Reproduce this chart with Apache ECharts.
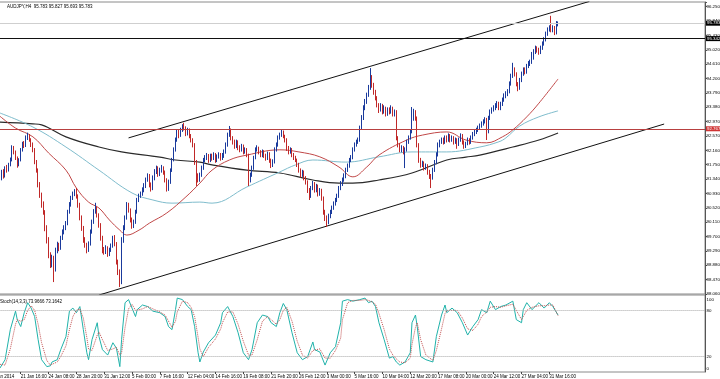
<!DOCTYPE html>
<html><head><meta charset="utf-8">
<script src="https://cdn.jsdelivr.net/npm/echarts@6/dist/echarts.min.js"></script>
<style>html,body{margin:0;padding:0;background:#fff}#c{width:720px;height:379px}</style>
</head><body><div id="c"></div>
<script>
// ---- data (AUDJPY H4) ----
const firstOpen = 91.60;
const closes = [
91.37,91.54,91.42,91.65,91.59,91.74,91.88,92.22,92.11,91.94,
91.74,91.88,92.17,92.34,92.28,92.51,92.56,92.45,92.31,92.17,
91.82,91.59,91.17,90.88,90.60,90.40,89.94,89.60,89.17,88.89,
89.09,88.74,89.31,89.46,89.37,89.66,89.83,89.94,90.06,90.40,
90.60,90.80,90.91,90.97,90.85,90.60,90.23,89.94,89.60,89.46,
89.31,89.49,89.83,90.11,90.40,90.51,90.31,90.03,89.66,89.31,
89.26,89.37,89.20,89.31,89.43,89.66,89.49,88.97,88.69,88.40,
89.60,89.94,90.23,90.60,90.45,90.17,90.00,90.11,90.40,90.74,
90.85,90.91,91.02,91.14,91.31,91.42,91.17,91.08,91.37,91.54,
91.65,91.48,91.59,91.65,91.54,91.31,91.08,91.25,91.59,91.88,
92.17,92.45,92.68,92.59,92.74,92.85,92.79,92.62,92.74,92.56,
92.45,92.31,91.82,91.37,91.31,91.45,91.65,91.88,91.94,92.00,
91.88,92.00,91.94,92.02,91.88,91.97,92.02,91.94,92.00,92.11,
92.31,92.59,92.74,92.51,92.39,92.28,92.39,92.22,92.17,92.28,
92.11,92.17,92.02,91.31,91.45,91.65,91.94,92.17,92.22,92.11,
92.02,92.11,92.00,91.94,92.05,91.88,91.74,91.82,92.17,92.31,
92.51,92.59,92.68,92.56,92.45,92.22,92.11,92.17,92.02,91.94,
91.88,91.74,91.59,91.45,91.54,91.37,91.25,91.02,90.85,91.08,
91.20,91.02,91.14,90.91,91.02,90.80,90.40,90.23,90.11,90.28,
90.40,90.51,90.63,90.74,90.85,91.08,91.20,91.31,91.42,91.59,
91.71,91.88,91.94,92.17,92.31,92.39,92.45,92.79,93.08,93.36,
93.53,93.73,93.93,94.16,94.02,93.82,93.65,93.45,93.31,93.42,
93.25,93.36,93.19,93.31,93.25,93.36,93.19,93.25,92.51,92.31,
92.17,92.22,92.11,92.17,92.39,92.51,92.68,93.08,93.25,93.08,
92.31,91.88,91.74,91.79,91.65,91.71,91.54,91.42,91.37,91.59,
91.82,92.02,92.31,92.39,92.45,92.39,92.51,92.45,92.56,92.45,
92.51,92.39,92.45,92.34,92.45,92.56,92.39,92.28,92.34,92.45,
92.39,92.51,92.62,92.68,92.74,92.79,92.85,92.91,92.97,93.02,
92.68,93.08,93.25,93.31,93.36,93.42,93.48,93.36,93.48,93.59,
93.70,93.76,93.82,94.05,94.27,94.45,94.33,94.05,93.93,94.16,
94.33,94.45,94.39,94.56,94.62,94.67,94.79,94.96,95.07,95.02,
94.96,95.07,95.19,95.30,95.47,95.59,95.64,95.59,95.64,95.50,
95.78,95.78];
const highs = [
91.68,91.60,91.62,91.70,91.74,91.80,91.95,92.30,92.28,92.15,
91.98,91.93,92.22,92.40,92.42,92.58,92.66,92.62,92.50,92.38,
92.22,91.88,91.64,91.25,90.95,90.70,90.45,90.02,89.68,89.25,
89.18,89.15,89.38,89.55,89.52,89.72,89.90,90.02,90.14,90.46,
90.68,90.86,90.98,91.05,91.08,90.90,90.66,90.30,90.00,89.68,
89.52,89.56,89.90,90.18,90.48,90.66,90.56,90.36,90.08,89.72,
89.40,89.45,89.42,89.38,89.50,89.72,89.74,89.54,89.04,88.76,
89.68,90.02,90.30,90.68,90.66,90.50,90.24,90.18,90.46,90.80,
90.92,90.98,91.10,91.22,91.38,91.50,91.48,91.24,91.44,91.62,
91.72,91.70,91.66,91.74,91.70,91.58,91.36,91.32,91.64,91.94,
92.24,92.52,92.76,92.74,92.80,92.90,92.94,92.84,92.80,92.78,
92.62,92.50,92.36,91.88,91.50,91.52,91.72,91.94,92.02,92.08,
92.05,92.06,92.06,92.10,92.08,92.04,92.10,92.08,92.08,92.18,
92.38,92.66,92.85,92.78,92.56,92.46,92.46,92.44,92.30,92.34,
92.32,92.24,92.22,92.06,91.52,91.72,92.00,92.24,92.30,92.26,
92.16,92.18,92.16,92.06,92.12,92.10,91.92,91.90,92.24,92.38,
92.58,92.66,92.74,92.72,92.60,92.50,92.28,92.24,92.22,92.08,
92.00,91.92,91.80,91.64,91.60,91.58,91.42,91.30,91.08,91.14,
91.28,91.25,91.20,91.18,91.08,91.06,90.84,90.46,90.30,90.35,
90.46,90.58,90.70,90.80,90.92,91.14,91.28,91.38,91.50,91.66,
91.78,91.94,92.02,92.24,92.38,92.46,92.52,92.86,93.16,93.44,
93.62,93.80,94.02,94.50,94.30,94.08,93.88,93.70,93.50,93.50,
93.48,93.44,93.40,93.38,93.38,93.44,93.40,93.32,93.30,92.56,
92.36,92.30,92.28,92.24,92.46,92.58,92.76,93.39,93.34,93.30,
93.12,92.36,91.94,91.86,91.84,91.78,91.76,91.60,91.48,91.66,
91.88,92.10,92.38,92.46,92.52,92.52,92.58,92.58,92.64,92.62,
92.58,92.56,92.52,92.50,92.52,92.64,92.62,92.44,92.40,92.52,
92.50,92.58,92.68,92.76,92.80,92.86,92.92,92.98,93.04,93.10,
93.08,93.14,93.32,93.38,93.44,93.50,93.56,93.54,93.54,93.66,
93.78,93.84,93.90,94.12,94.34,94.65,94.52,94.38,94.10,94.22,
94.40,94.52,94.52,94.62,94.70,94.74,94.96,95.04,95.14,95.12,
95.08,95.14,95.26,95.38,95.54,95.66,95.72,95.99,95.72,95.70,
95.84,95.83];
const lows = [
91.25,91.30,91.35,91.38,91.52,91.55,91.70,91.84,92.04,91.88,
91.66,91.70,91.84,92.12,92.22,92.25,92.45,92.40,92.25,92.10,
91.76,91.52,91.10,90.80,90.52,90.32,89.85,89.50,89.08,88.80,
88.82,88.40,88.70,89.22,89.28,89.32,89.60,89.76,89.88,90.02,
90.35,90.55,90.74,90.85,90.78,90.52,90.16,89.86,89.52,89.38,
89.22,89.26,89.44,89.78,90.06,90.35,90.24,89.95,89.58,89.22,
89.18,89.20,89.12,89.14,89.26,89.38,89.42,88.90,88.60,88.26,
88.34,89.52,89.88,90.18,90.38,90.10,89.92,89.94,90.06,90.35,
90.68,90.80,90.86,90.96,91.08,91.26,91.10,90.98,91.02,91.30,
91.48,91.40,91.42,91.52,91.46,91.24,90.98,91.00,91.20,91.54,
91.84,92.12,92.40,92.50,92.54,92.68,92.72,92.56,92.58,92.50,
92.38,92.24,91.74,91.14,91.24,91.26,91.40,91.60,91.82,91.88,
91.80,91.82,91.86,91.88,91.80,91.82,91.92,91.86,91.88,91.94,
92.06,92.26,92.54,92.44,92.32,92.20,92.22,92.16,92.10,92.12,
92.04,92.06,91.96,91.14,91.24,91.40,91.60,91.90,92.12,92.04,
91.96,91.96,91.94,91.86,91.88,91.80,91.65,91.68,91.78,92.12,
92.26,92.46,92.54,92.50,92.38,92.14,92.04,92.06,91.96,91.88,
91.82,91.68,91.52,91.38,91.40,91.30,91.18,90.94,90.74,90.80,
91.02,90.95,90.96,90.84,90.86,90.72,90.32,90.14,89.97,90.05,
90.22,90.34,90.46,90.58,90.68,90.80,91.02,91.14,91.26,91.36,
91.54,91.66,91.82,91.90,92.12,92.26,92.34,92.40,92.74,93.02,
93.30,93.48,93.68,93.88,93.94,93.74,93.58,93.38,93.22,93.26,
93.18,93.20,93.12,93.14,93.18,93.20,93.12,93.12,92.44,92.24,
92.10,92.10,92.04,91.65,92.12,92.34,92.46,92.64,93.00,93.00,
92.24,91.80,91.66,91.68,91.58,91.60,91.46,91.34,91.08,91.32,
91.54,91.76,91.98,92.24,92.34,92.32,92.34,92.38,92.40,92.38,
92.40,92.32,92.34,92.20,92.28,92.40,92.32,92.20,92.22,92.30,
92.32,92.34,92.46,92.56,92.62,92.68,92.74,92.80,92.86,92.92,
92.45,92.64,93.02,93.20,93.26,93.30,93.36,93.30,93.30,93.42,
93.54,93.64,93.70,93.78,94.00,94.22,94.26,93.98,93.84,93.88,
94.10,94.28,94.32,94.34,94.50,94.56,94.62,94.74,94.90,94.94,
94.88,94.90,95.02,95.14,95.26,95.42,95.54,95.52,95.52,95.44,
95.46,95.69];

// moving averages: [bar index, price]
const maBlack = [[0,92.96],[19,92.91],[24,92.88],[38,92.54],[57,92.25],[70,92.11],[92,91.96],[101,91.88],[115,91.82],[122,91.74],[142,91.59],[161,91.51],[180,91.31],[195,91.22],[203,91.22],[218,91.31],[237,91.51],[257,91.88],[268,91.96],[276,92.02],[295,92.25],[310,92.45],[321,92.65]];
const maRed = [[0,93.13],[9,92.79],[19,92.54],[28,92.08],[38,91.59],[44,91.08],[51,90.68],[57,90.51],[63,90.17],[69,89.88],[73,89.74],[80,89.88],[86,90.08],[96,90.37],[107,90.83],[115,91.22],[122,91.59],[132,91.88],[142,92.02],[161,92.17],[172,92.11],[184,91.97],[195,91.68],[203,91.40],[211,91.68],[218,92.02],[234,92.45],[243,92.59],[257,92.68],[268,92.45],[280,92.37],[289,92.54],[295,92.74],[303,93.11],[310,93.50],[321,94.19]];
const maBlue = [[0,93.22],[19,92.82],[38,92.25],[57,91.59],[76,90.94],[88,90.74],[99,90.65],[115,90.68],[122,90.65],[142,91.11],[161,91.54],[170,91.74],[180,91.88],[199,91.82],[218,91.97],[237,92.11],[257,92.11],[276,92.25],[287,92.40],[291,92.51],[299,92.85],[310,93.11],[321,93.28]];

// trend lines: [bar index, price]
const upperChannel = [[74,92.51],[339,96.40]];
const lowerChannel = [[57,88.03],[382,92.905]];

// horizontal levels
const bidPrice = 95.783, resistLevel = 95.342, supportLevel = 92.767;

// stochastic (14,3,3): [bar index, value]
const stochMain = [[0,5],[3,16],[6,55],[9,79],[10,68],[12,59],[14,77],[16,90],[18,83],[20,72],[22,42],[24,16],[27,7],[29,8],[30,13],[33,16],[35,29],[38,46],[40,79],[42,83],[44,77],[46,85],[48,55],[50,25],[51,16],[53,42],[56,64],[57,46],[59,29],[62,22],[65,38],[67,31],[69,7],[70,42],[72,90],[74,94],[76,83],[78,72],[79,81],[82,87],[85,85],[88,79],[92,77],[95,72],[97,59],[99,55],[101,81],[102,96],[105,94],[108,85],[110,81],[112,59],[114,25],[115,13],[117,26],[120,38],[124,48],[127,64],[128,77],[131,85],[134,72],[137,51],[140,25],[143,16],[145,29],[148,64],[151,74],[154,72],[156,64],[159,59],[161,77],[163,89],[165,81],[168,51],[171,25],[174,16],[177,20],[180,39],[181,29],[184,26],[187,9],[190,25],[193,33],[196,64],[197,92],[200,94],[203,92],[207,94],[210,96],[212,90],[214,92],[216,85],[218,64],[221,42],[224,18],[226,20],[228,13],[230,9],[233,13],[236,25],[237,64],[239,74],[240,59],[242,20],[245,16],[249,13],[251,46],[254,74],[256,87],[257,77],[260,83],[263,77],[266,64],[269,48],[272,59],[275,68],[277,81],[280,77],[282,92],[285,81],[288,85],[291,87],[295,92],[297,68],[300,64],[301,81],[303,90],[306,81],[310,90],[313,83],[316,90],[318,85],[321,73.97]];
const stochSignal = [[0,10],[3,9],[6,30],[9,62],[10,68],[12,66],[14,68],[16,80],[18,86],[20,80],[22,62],[24,38],[27,15],[29,9],[30,10],[33,13],[35,20],[38,34],[40,55],[42,72],[44,80],[46,82],[48,70],[50,45],[51,30],[53,28],[56,48],[57,52],[59,42],[62,28],[65,30],[67,32],[69,22],[70,25],[72,58],[74,82],[76,88],[78,80],[79,78],[82,82],[85,85],[88,82],[92,78],[95,74],[97,66],[99,58],[101,66],[102,78],[105,92],[108,90],[110,84],[112,72],[114,45],[115,30],[117,20],[120,32],[124,43],[127,56],[128,64],[131,78],[134,78],[137,62],[140,40],[143,22],[145,22],[148,42],[151,66],[154,72],[156,68],[159,62],[161,68],[163,80],[165,84],[168,66],[171,40],[174,22],[177,18],[180,28],[181,30],[184,30],[187,18],[190,18],[193,28],[196,44],[197,68],[200,90],[203,93],[207,93],[210,94],[212,93],[214,91],[216,88],[218,76],[221,55],[224,30],[226,22],[228,17],[230,13],[233,12],[236,18],[237,36],[239,58],[240,64],[242,42],[245,22],[249,15],[251,28],[254,56],[256,76],[257,80],[260,80],[263,80],[266,70],[269,56],[272,54],[275,62],[277,72],[280,78],[282,84],[285,85],[288,84],[291,86],[295,88],[297,80],[300,68],[301,72],[303,80],[306,84],[310,86],[313,86],[316,87],[318,87],[321,73.16]];

// axis labels (time tick index counted in bars; "20 Jan 2014" bar lies just off the left edge)
const priceTickLabels = ['88.060','88.470','88.880','89.290','89.700','90.110','90.520','90.930','91.340','91.750','92.160','92.570','92.970','93.380','93.790','94.200','94.610','95.020','95.430','95.840','96.250'];
const timeTickLabels = ['20 Jan 2014','21 Jan 16:00','24 Jan 08:00','28 Jan 20:00','31 Jan 12:00','5 Feb 00:00','7 Feb 16:00','12 Feb 04:00','14 Feb 16:00','19 Feb 08:00','21 Feb 20:00','26 Feb 12:00','3 Mar 00:00','5 Mar 16:00','10 Mar 04:00','12 Mar 20:00','17 Mar 08:00','20 Mar 00:00','24 Mar 12:00','27 Mar 04:00','31 Mar 16:00'];
const timeTickIndex = [-6,12,28,44,60,76,92,108,124,140,156,172,188,204,220,236,252,268,284,300,316];
const stochLabels = {0:'0',20:'20',80:'80',100:'100'};

// ---- build ----
const PAD = 6;          // hidden slots left of the first visible bar
const N = 412;
const cats = Array.from({length:N},(_,i)=>String(i));
const tickMap = {}; timeTickIndex.forEach((ix,k)=>tickMap[ix+PAD]=timeTickLabels[k]);
const ohlc = Array(PAD).fill('-').concat(closes.map((c,i)=>[i===0?firstOpen:closes[i-1], c, lows[i], highs[i]]));
const sh = arr => arr.map(p=>[p[0]+PAD, p[1]]);
const FF = 'Liberation Sans';
const PMIN = 88.06, PSTEP = 0.4095;
const GL = -1 - PAD*706/406, GW = 706 + PAD*706/406;

const chart = echarts.init(document.getElementById('c'), null, {renderer:'canvas'});
chart.setOption({
  animation:false,
  backgroundColor:'#fff',
  title:[
    {text:'AUDJPY,H4  95.783 95.827 95.693 95.783', left:2, top:-1, textStyle:{fontSize:4.5, fontWeight:'normal', color:'#000', fontFamily:FF}},
    {text:'Stoch(14,3,3) 73.9666 73.1642', left:-5, top:294, textStyle:{fontSize:4.5, fontWeight:'normal', color:'#000', fontFamily:FF}}
  ],
  grid:[
    {left:GL, width:GW, top:2, height:292, show:true, borderColor:'#8a8a8a', borderWidth:1, containLabel:false, outerBoundsMode:'none'},
    {left:GL, width:GW, top:295, height:77, show:true, borderColor:'#8a8a8a', borderWidth:1, containLabel:false, outerBoundsMode:'none'}
  ],
  xAxis:[
    {type:'category', gridIndex:0, data:cats, boundaryGap:true, axisLine:{show:false}, axisTick:{show:false}, axisLabel:{show:false}, splitLine:{show:false}},
    {type:'category', gridIndex:1, data:cats, boundaryGap:true, axisLine:{show:false},
     axisTick:{show:true, alignWithLabel:true, interval:(i)=>tickMap[i]!==undefined, length:2, lineStyle:{color:'#444'}},
     axisLabel:{interval:(i)=>tickMap[i]!==undefined, showMinLabel:true, formatter:(v,i)=>tickMap[i]||'', fontSize:4.5, align:'left', margin:2, color:'#000', fontFamily:FF},
     splitLine:{show:false}}
  ],
  yAxis:[
    {type:'value', gridIndex:0, position:'right', min:PMIN, max:96.384, interval:PSTEP,
     axisLine:{show:true, lineStyle:{color:'#555'}}, axisTick:{show:true, length:2, lineStyle:{color:'#555'}},
     splitLine:{show:false},
     axisLabel:{fontSize:4.4, margin:1.5, color:'#000', fontFamily:FF,
       formatter:(v)=>{const k=Math.round((v-PMIN)/PSTEP); return (Math.abs(PMIN+k*PSTEP-v)<0.01 && priceTickLabels[k])? priceTickLabels[k] : '';}}},
    {type:'value', gridIndex:1, position:'right', min:0, max:100, interval:20,
     axisLine:{show:true, lineStyle:{color:'#555'}}, axisTick:{show:false}, splitLine:{show:false},
     axisLabel:{fontSize:4.4, margin:1.5, color:'#000', fontFamily:FF,
       formatter:(v)=> v===100 ? '{t|100}' : v===0 ? '{b|0}' : (stochLabels[v]||''),
       rich:{t:{fontSize:4.4, padding:[9,0,0,0], fontFamily:FF, color:'#000'}, b:{fontSize:4.4, padding:[0,0,6,0], fontFamily:FF, color:'#000'}}}}
  ],
  series:[
    {type:'line', xAxisIndex:0, yAxisIndex:0, data:sh(maBlack), showSymbol:false, smooth:0.4, lineStyle:{color:'#2a2a2a', width:1.2}, silent:true, z:1},
    {type:'line', xAxisIndex:0, yAxisIndex:0, data:sh(maBlue), showSymbol:false, smooth:0.4, lineStyle:{color:'#7fbccc', width:1}, silent:true, z:1},
    {type:'line', xAxisIndex:0, yAxisIndex:0, data:sh(maRed), showSymbol:false, smooth:0.4, lineStyle:{color:'#c04848', width:1}, silent:true, z:1},
    {type:'line', xAxisIndex:0, yAxisIndex:0, data:sh(upperChannel), showSymbol:false, lineStyle:{color:'#111', width:1}, silent:true, z:1},
    {type:'line', xAxisIndex:0, yAxisIndex:0, data:sh(lowerChannel), showSymbol:false, lineStyle:{color:'#111', width:1}, silent:true, z:1},
    {type:'candlestick', xAxisIndex:0, yAxisIndex:0, data:ohlc, barWidth:1,
     itemStyle:{color:'#8fb0e0', borderColor:'#1a3a9c', color0:'#e8a0a0', borderColor0:'#c02828', borderWidth:1},
     markLine:{silent:true, symbol:['none','none'], animation:false,
       data:[
         {yAxis:bidPrice, lineStyle:{color:'#cfcfcf', width:1, type:'solid'},
          label:{show:true, position:'end', formatter:'95.783', backgroundColor:'#000', color:'#fff', fontSize:4.4, fontFamily:FF, padding:[1,2,0,1], distance:1}},
         {yAxis:resistLevel, lineStyle:{color:'#111', width:1, type:'solid'},
          label:{show:true, position:'end', formatter:'95.342', backgroundColor:'#000', color:'#fff', fontSize:4.4, fontFamily:FF, padding:[1,2,0,1], distance:1}},
         {yAxis:supportLevel, lineStyle:{color:'#b84040', width:1, type:'solid'},
          label:{show:true, position:'end', formatter:'92.767', backgroundColor:'#d03434', color:'#fff', fontSize:4.4, fontFamily:FF, padding:[1,2,0,1], distance:1}}
       ]}, z:2},
    {type:'line', xAxisIndex:1, yAxisIndex:1, data:sh(stochMain), showSymbol:false, lineStyle:{color:'#20b2aa', width:1}, silent:true,
     markLine:{silent:true, symbol:['none','none'], label:{show:false}, lineStyle:{color:'#a8a8a8', type:'dotted', width:1},
       data:[{yAxis:20},{yAxis:80}]}},
    {type:'line', xAxisIndex:1, yAxisIndex:1, data:sh(stochSignal), showSymbol:false, lineStyle:{color:'#c05050', width:1, type:'dotted'}, silent:true}
  ]
});
</script>
</body></html>
